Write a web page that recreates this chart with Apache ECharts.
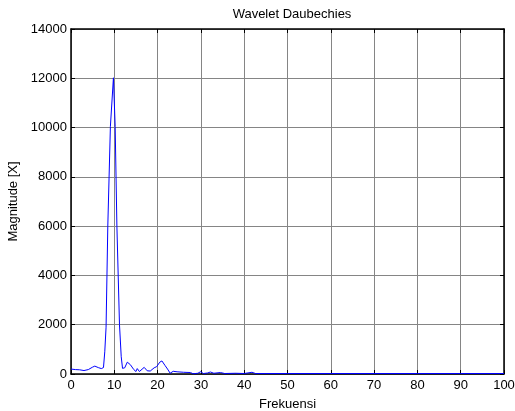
<!DOCTYPE html>
<html>
<head>
<meta charset="utf-8">
<script src="https://cdn.jsdelivr.net/npm/echarts@6/dist/echarts.min.js"></script>
<style>
  html, body { margin: 0; padding: 0; background: #fff; }
  #chart { width: 515px; height: 411px; }
</style>
</head>
<body>
<div id="chart"></div>
<script>
// frequency (x) and magnitude (y)
var freq = [0, 1, 2, 3, 4, 5, 5.5, 6.3, 7, 7.5, 7.8, 8.1, 8.5, 9.1, 9.8, 10.2, 10.6, 11.2, 11.6, 11.9,
            12.4, 13.0, 13.7, 14.5, 15.0, 15.3, 15.8, 16.9, 17.6, 18.3, 19.2, 19.8, 20.5, 21.0, 21.7, 22.3,
            22.9, 23.6, 24.5, 26, 27.6, 28.2, 29.3, 29.9, 30.6, 31.5, 32.2, 33, 34.5, 35.5, 38, 40,
            41.8, 42.6, 45, 50, 60, 70, 80, 90, 100];
var magnitude = [200, 180, 170, 140, 180, 280, 320, 260, 220, 260, 900, 1900, 6000, 10050, 12020, 10050,
                 6000, 2000, 700, 230, 250, 480, 380, 180, 100, 220, 100, 270, 130, 120, 250, 300, 480, 530,
                 350, 200, 30, 110, 90, 70, 60, 10, 30, 90, 20, 40, 80, 30, 60, 20, 30, 20, 70, 20, 20,
                 20, 20, 20, 20, 20, 20];
var xTicks = [0, 100, 10];
var yTicks = [0, 14000, 2000];

var points = [];
for (var i = 0; i < freq.length; i++) {
    points.push([freq[i], magnitude[i]]);
}

var font = 'Liberation Sans, Arial, sans-serif';
var axisLine = { show: true, onZero: false, lineStyle: { color: '#000', width: 1.5 } };
var tick = { show: true, inside: true, length: 4, lineStyle: { color: '#000' } };
var plain = function (v) { return String(v); };

var myChart = echarts.init(document.getElementById('chart'));
var option = {
    animation: false,
    backgroundColor: '#fff',
    title: {
        text: 'Wavelet Daubechies',
        left: 287,
        top: 3,
        textAlign: 'center',
        textStyle: { fontFamily: font, fontSize: 13, fontWeight: 'normal', color: '#000' }
    },
    grid: { left: 71, right: 11, top: 29, bottom: 37, containLabel: false, outerBoundsMode: 'none' },
    xAxis: [{
        type: 'value',
        min: xTicks[0], max: xTicks[1], interval: xTicks[2],
        name: 'Frekuensi',
        nameLocation: 'middle',
        nameGap: 24,
        nameTextStyle: { fontFamily: font, fontSize: 13, color: '#000' },
        axisLine: axisLine,
        axisTick: tick,
        axisLabel: { fontFamily: font, fontSize: 13, color: '#000', margin: 5, formatter: plain },
        splitLine: { show: true, lineStyle: { color: '#858585', width: 1 } }
    }, {
        type: 'value', position: 'top',
        min: xTicks[0], max: xTicks[1], interval: xTicks[2],
        axisLine: axisLine, axisTick: tick,
        axisLabel: { show: false }, splitLine: { show: false }
    }],
    yAxis: [{
        type: 'value',
        min: yTicks[0], max: yTicks[1], interval: yTicks[2],
        name: 'Magnitude [X]',
        nameLocation: 'middle',
        nameGap: 50,
        nameTextStyle: { fontFamily: font, fontSize: 13, color: '#000' },
        axisLine: axisLine,
        axisTick: tick,
        axisLabel: { fontFamily: font, fontSize: 13, color: '#000', margin: 4, formatter: plain },
        splitLine: { show: true, lineStyle: { color: '#858585', width: 1 } }
    }, {
        type: 'value', position: 'right',
        min: yTicks[0], max: yTicks[1], interval: yTicks[2],
        axisLine: axisLine, axisTick: tick,
        axisLabel: { show: false }, splitLine: { show: false }
    }],
    series: [{
        type: 'line',
        data: points,
        showSymbol: false,
        lineStyle: { color: '#0000ff', width: 1 },
        z: 5
    }]
};
myChart.setOption(option);
</script>
</body>
</html>
